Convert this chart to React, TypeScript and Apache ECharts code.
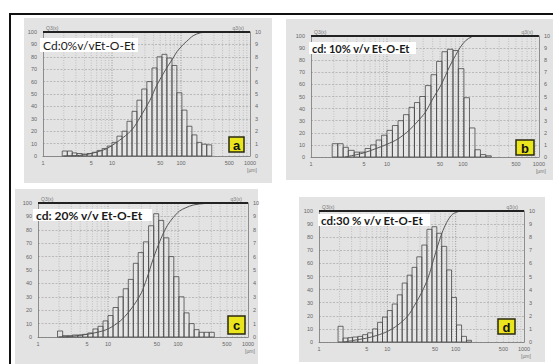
import React, { useEffect, useRef } from "react";
import * as echarts from "echarts";

// Size classes (µm) – lower/upper edges of the histogram bins
const binEdges = [1.9, 2.25, 2.65, 3.1, 3.7, 4.35, 5.15, 6.1, 7.2, 8.5, 10, 11.8, 14, 16.5, 19.5, 23, 27, 32, 38, 45, 53, 62.5, 74, 87, 103, 122, 144, 170, 200, 236, 279, 330];

// density distribution q3(x) for each sample
const qA = [0.4, 0.4, 0.25, 0.2, 0.15, 0.2, 0.3, 0.45, 0.6, 0.8, 1.1, 1.6, 2.0, 2.8, 3.6, 4.5, 5.4, 6.0, 7.1, 8.0, 8.2, 7.9, 7.3, 5.1, 3.7, 2.4, 1.7, 1.1, 0.95, 0.9, 0];
const qB = [1.1, 1.1, 0.8, 0.55, 0.4, 0.4, 0.7, 1.0, 1.4, 1.8, 2.2, 2.6, 3.0, 3.5, 4.1, 4.5, 5.0, 5.9, 6.8, 7.9, 8.7, 8.9, 8.8, 7.3, 4.9, 2.4, 0.6, 0.2, 0.1, 0, 0];
const qC = [0.45, 0.1, 0.1, 0.15, 0.15, 0.2, 0.3, 0.6, 0.8, 1.2, 1.6, 2.2, 3.0, 3.6, 4.3, 5.5, 6.3, 7.1, 8.3, 9.2, 8.7, 7.4, 6.0, 4.5, 3.0, 1.8, 1.0, 0.55, 0.35, 0.35, 0.35];
const qD = [1.2, 0.3, 0.33, 0.38, 0.43, 0.56, 0.7, 1.0, 1.5, 1.9, 2.4, 2.9, 3.6, 4.5, 5.1, 5.7, 6.5, 7.4, 8.6, 8.8, 8.3, 7.3, 5.5, 3.4, 1.3, 0.43, 0.13, 0, 0, 0, 0];

// cumulative distribution Q3(x) [µm, %]
const cumA = [[2, 0], [3.4, 0.5], [5, 2], [8.4, 6], [14.6, 15], [20, 22], [25.4, 31], [35.5, 45], [44.5, 57], [62, 71], [77, 79], [87, 84], [108, 90], [121, 92.5], [150, 97], [190, 99.3], [235, 100], [1000, 100]];
const cumB = [[2.8, 0], [4, 2], [5, 3.5], [7.2, 7], [10, 10.5], [14, 15], [19.5, 22], [25, 29], [32, 37], [40, 48], [52, 60], [67, 75], [80, 84], [93, 91], [110, 96.5], [130, 99.3], [145, 100], [1000, 100]];
const cumC = [[2, 0], [3, 0.5], [5, 2], [7, 3.5], [10, 6], [15, 12], [20, 19], [25, 26], [30, 33], [35.5, 43], [44, 58], [50, 66], [60, 76], [70, 83], [85, 89], [105, 94], [130, 96.5], [165, 98.5], [250, 99.7], [400, 100], [1000, 100]];
const cumD = [[2.3, 0], [3, 1], [5, 3], [7, 5], [10, 8], [14.3, 13], [20, 20], [25, 28], [32, 38], [39.5, 49], [47, 62], [55, 74], [65, 85], [77, 93], [90, 97.5], [110, 99.6], [130, 100], [1000, 100]];

const gridLineX = [2, 3, 4, 5, 6, 7, 8, 9, 10, 20, 30, 40, 50, 60, 70, 80, 90, 100, 200, 300, 400, 500, 600, 700, 800, 900];
const xTickLabels = [1, 5, 10, 50, 100, 500, 1000];
const xUnit = "[µm]";
const leftAxisName = "Q3(x)";
const rightAxisName = "q3(x)";
const panelTitles = ["Cd:0%v/vEt-O-Et", "cd: 10% v/v Et-O-Et", "cd: 20% v/v Et-O-Et", "cd:30 % v/v Et-O-Et"];
const panelLetters = ["a", "b", "c", "d"];

const qSets = [qA, qB, qC, qD];
const cumSets = [cumA, cumB, cumC, cumD];

const layout = [
  { grid: { left: 43, top: 32, width: 207, height: 124 }, paper: [24, 18, 248, 165], title: [40, 38, 98, 14, 12, "normal"], letter: [229, 137, 15, 15] },
  { grid: { left: 311, top: 36, width: 230, height: 121 }, paper: [286, 19, 267, 161], title: [309, 42, 107, 12, 11, "bold"], letter: [516, 140, 18, 15] },
  { grid: { left: 38, top: 203, width: 210, height: 134 }, paper: [15, 189, 243, 175], title: [33, 209, 119, 12, 12, "bold"], letter: [228, 316, 17, 18] },
  { grid: { left: 319, top: 211, width: 205, height: 131 }, paper: [299, 197, 246, 165], title: [318, 214, 112, 12, 11.5, "bold"], letter: [498, 319, 17, 15] },
];

const FONT = "Liberation Sans";

export default function App() {
  const ref = useRef<HTMLDivElement>(null);
  useEffect(() => {
    if (!ref.current) return;
    const chart = echarts.init(ref.current, undefined, { renderer: "svg" });
    const grids: any[] = [];
    const xAxes: any[] = [];
    const yAxes: any[] = [];
    const series: any[] = [];
    const graphic: any[] = [];

    layout.forEach((p, i) => {
      grids.push({ ...p.grid, containLabel: false });
      xAxes.push({
        type: "log", logBase: 10, min: 1, max: 1000, gridIndex: i,
        axisLine: { show: true, lineStyle: { color: "#777", width: 0.8 } },
        axisTick: { show: false }, axisLabel: { show: false }, splitLine: { show: false },
      });
      yAxes.push({
        type: "value", gridIndex: i, min: 0, max: 100, interval: 10, position: "left",
        axisLine: { show: true, lineStyle: { color: "#777", width: 0.8 } },
        axisTick: { show: false },
        axisLabel: { fontSize: 5.5, color: "#666", margin: 6, fontFamily: FONT },
        splitLine: { show: true, lineStyle: { color: "#9c9c9c", width: 0.6, type: [2, 1.5] } },
        name: leftAxisName, nameLocation: "end", nameGap: 2,
        nameTextStyle: { fontSize: 5, color: "#777", align: "left", padding: [0, 0, 0, 3], fontFamily: FONT },
      });
      yAxes.push({
        type: "value", gridIndex: i, min: 0, max: 10, interval: 1, position: "right",
        axisLine: { show: true, lineStyle: { color: "#777", width: 0.8 } },
        axisTick: { show: false },
        axisLabel: { fontSize: 5.5, color: "#666", margin: 5, fontFamily: FONT },
        splitLine: { show: false },
        name: rightAxisName, nameLocation: "end", nameGap: 2,
        nameTextStyle: { fontSize: 5, color: "#777", align: "right", padding: [0, 6, 0, 0], fontFamily: FONT },
      });

      // vertical dotted grid lines
      series.push({
        type: "custom", xAxisIndex: i, yAxisIndex: 2 * i + 1, silent: true, z: 1,
        data: gridLineX.map((v) => [v, 0]),
        encode: { x: 0, y: 1 },
        renderItem: (params: any, api: any) => {
          const a = api.coord([api.value(0), 0]);
          const b = api.coord([api.value(0), 10]);
          const major = [10, 100].includes(api.value(0));
          return {
            type: "line",
            shape: { x1: a[0], y1: a[1], x2: b[0], y2: b[1] },
            style: { stroke: major ? "#888" : "#a8a8a8", lineWidth: major ? 0.8 : 0.6, lineDash: [1, 1.5] },
          };
        },
      });

      // histogram bars
      const q = qSets[i];
      series.push({
        type: "custom", xAxisIndex: i, yAxisIndex: 2 * i + 1, silent: true, z: 3,
        data: binEdges.slice(0, -1).map((lo, k) => [lo, binEdges[k + 1], q[k]]),
        encode: { x: [0, 1], y: 2 },
        renderItem: (params: any, api: any) => {
          const h = api.value(2);
          if (!h) return null;
          const p1 = api.coord([api.value(0), h]);
          const p2 = api.coord([api.value(1), 0]);
          return {
            type: "rect",
            shape: { x: p1[0], y: p1[1], width: p2[0] - p1[0], height: p2[1] - p1[1] },
            style: { fill: "rgba(255,255,255,0.12)", stroke: "#484848", lineWidth: 0.8 },
          };
        },
      });

      // cumulative curve
      series.push({
        type: "line", xAxisIndex: i, yAxisIndex: 2 * i, z: 4,
        data: cumSets[i], smooth: 0.3, showSymbol: false, silent: true,
        lineStyle: { color: "#555", width: 1 },
        markLine: {
          silent: true, symbol: ["none", "none"], label: { show: false },
          lineStyle: { color: "#222", width: 2, type: "solid" },
          data: [{ yAxis: 100 }],
        },
      });

      // x tick labels
      series.push({
        type: "custom", xAxisIndex: i, yAxisIndex: 2 * i + 1, silent: true, z: 5,
        data: xTickLabels.map((v) => [v, 0]),
        encode: { x: 0, y: 1 },
        renderItem: (params: any, api: any) => {
          const v = api.value(0);
          const pt = api.coord([v, 0]);
          const children: any[] = [{
            type: "text", x: pt[0], y: pt[1] + 4,
            style: { text: String(v), fontSize: 5.5, fill: "#666", align: "center", verticalAlign: "top", fontFamily: FONT },
          }];
          if (v === 1000) {
            children.push({
              type: "text", x: pt[0] + 2, y: pt[1] + 11,
              style: { text: xUnit, fontSize: 5, fill: "#777", align: "center", verticalAlign: "top", fontFamily: FONT },
            });
          }
          return { type: "group", children };
        },
      });

      // decorations
      const [px, py, pw, ph] = p.paper;
      graphic.push({ type: "rect", z: -10, shape: { x: px, y: py, width: pw, height: ph }, style: { fill: "#e3e3e3" } });
      const [tx, ty, tw, th, fs, fw] = p.title as any[];
      graphic.push({ type: "rect", z: 100, shape: { x: tx, y: ty, width: tw, height: th }, style: { fill: "#ffffff" } });
      graphic.push({
        type: "text", z: 101, x: tx + 3, y: ty + th / 2,
        style: { text: panelTitles[i], fontSize: fs, fontWeight: fw, fill: "#1a1a1a", fontFamily: "Lato", verticalAlign: "middle", align: "left" },
      });
      const [lx, ly, lw, lh] = p.letter;
      graphic.push({ type: "rect", z: 100, shape: { x: lx, y: ly, width: lw, height: lh }, style: { fill: "#ebe51e", stroke: "#2a2a10", lineWidth: 1.5 } });
      graphic.push({
        type: "text", z: 101, x: lx + lw / 2, y: ly + lh / 2 + 0.5,
        style: { text: panelLetters[i], fontSize: 13, fontWeight: "bold", fill: "#111", fontFamily: "Liberation Sans", align: "center", verticalAlign: "middle" },
      });
    });

    graphic.push({ type: "rect", z: 90, shape: { x: 10, y: 14, width: 600, height: 400 }, style: { fill: "none", stroke: "#111", lineWidth: 2 } });

    chart.setOption({
      animation: false,
      backgroundColor: "#ffffff",
      grid: grids,
      xAxis: xAxes,
      yAxis: yAxes,
      series,
      graphic,
    });
    return () => chart.dispose();
  }, []);

  return <div ref={ref} style={{ position: "fixed", left: 0, top: 0, width: 553, height: 364 }} />;
}
